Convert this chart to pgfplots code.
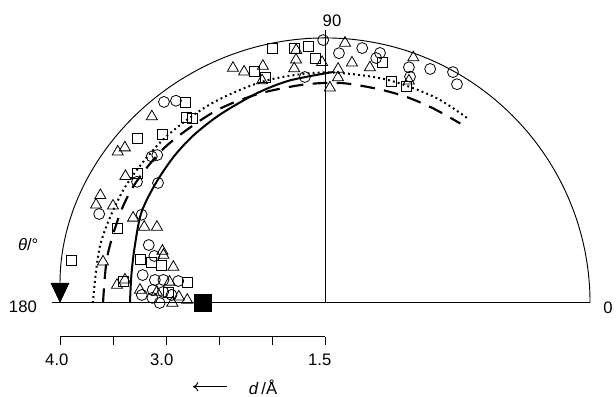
\documentclass[border=0pt]{standalone}
\usepackage{pgfplots}
\pgfplotsset{compat=1.18}
\usepackage{pgfplotstable}
\usepackage{fontspec}
\setmainfont{Liberation Sans}
\usetikzlibrary{arrows.meta}
\newcommand{\Ang}{\symbol{"00C5}}
\newcommand{\Deg}{\symbol{"00B0}}
\newcommand{\Th}{\symbol{"03B8}}

\pgfplotstableread{
theta d
90.4 3.98
86.8 3.86
81.7 3.93
77.6 3.915
78.2 3.86
95.1 3.64
70.4 3.86
69.4 3.78
65.8 3.92
61.0 3.99
58.9 3.91
128.7 3.93
126.4 3.87
139.8 3.64
138.6 3.61
147.2 3.61
144.3 3.44
158.5 3.79
154.3 3.42
161.8 3.25
164.6 3.17
171.3 3.24
172.3 3.12
171.9 3.04
171.5 2.90
177.5 3.23
175.7 3.13
176.1 3.03
177.0 2.95
178.3 3.13
180.0 3.06
}\circdata

\pgfplotstableread{
theta d
101.6 3.95
96.9 3.92
93.8 3.93
92.3 3.81
106.9 3.78
104.9 3.70
76.6 3.83
73.4 3.68
69.4 3.68
124.8 3.80
126.8 3.69
125.7 3.64
138.8 3.85
134.1 3.71
145.5 3.65
160.1 3.58
170.4 3.93
166.6 3.29
167.0 3.18
166.9 3.08
171.3 2.81
173.8 3.41
176.0 2.98
}\sqdata

\pgfplotstableread{
theta d
85.6 3.96
83.6 3.78
79.2 3.76
90.7 3.77
86.8 3.71
86.7 3.63
88.7 3.53
70.2 3.96
69.3 3.74
96.5 3.90
96.8 3.81
97.5 3.73
111.4 3.88
109.3 3.81
104.7 3.81
105.8 3.68
132.9 3.90
142.2 3.89
143.9 3.92
147.6 3.73
154.4 3.85
156.8 3.85
155.4 3.70
156.1 3.48
157.2 3.35
155.7 3.24
169.5 3.63
162.3 3.11
163.5 3.09
166.7 2.97
173.4 3.40
175.1 3.47
172.3 2.98
176.0 3.25
177.6 2.88
178.8 2.80
180.0 2.94
176.3 3.09
}\tridata

\pgfplotstableread{
theta d
180 3.34
172 3.345
164 3.37
154 3.43
145 3.455
136 3.485
128 3.51
119 3.535
108 3.58
99 3.625
88 3.68
}\soliddata

\pgfplotstableread{
theta d
180 3.594
168 3.60
156 3.61
147 3.615
135 3.605
120 3.585
108 3.57
97 3.568
90 3.575
84 3.58
75.5 3.58
68.3 3.59
61 3.60
53 3.62
}\dashdata

\pgfplotstableread{
theta d
180 3.69
165 3.69
150 3.68
135 3.67
120 3.665
105 3.67
90 3.675
75 3.685
62 3.70
52.5 3.70
}\dotdata

\begin{document}
\begin{tikzpicture}
\begin{axis}[
  x=79.5pt, y=79.5pt,
  xmin=-3.066, xmax=2.745, ymin=-0.887, ymax=2.858,
  hide axis, ticks=none, clip=false, scale only axis,
  every axis plot/.append style={data cs=polar},
]
\coordinate (BL) at (rel axis cs:0,0);
\coordinate (TR) at (rel axis cs:1,1);
% frame
\draw[line width=0.7pt] (axis cs:-2.58,0) -- (axis cs:2.5,0);
\draw[line width=0.7pt] (axis cs:0,0) -- (axis cs:0,2.575);
\draw[line width=0.7pt, -{Triangle[length=15pt,width=14pt]}] (axis cs:2.5,0) arc[start angle=0,end angle=180,radius=198.75pt];

% curves
\addplot[smooth, black, line width=1.5pt] table[x=theta, y expr=\thisrow{d}-1.5] {\soliddata};
\addplot[smooth, black, line width=1.6pt, dash pattern=on 11pt off 7pt] table[x=theta, y expr=\thisrow{d}-1.5] {\dashdata};
\addplot[smooth, black, line width=1.5pt, dash pattern=on 1.4pt off 2.4pt] table[x=theta, y expr=\thisrow{d}-1.5] {\dotdata};

% markers
\addplot[only marks, mark=o, mark size=4.1pt, mark options={black, line width=0.6pt}] table[x=theta, y expr=\thisrow{d}-1.5] {\circdata};
\addplot[only marks, mark=square, mark size=3.75pt, mark options={black, line width=0.6pt}] table[x=theta, y expr=\thisrow{d}-1.5] {\sqdata};
\addplot[only marks, mark=triangle, mark size=4.8pt, mark options={black, line width=0.6pt}] table[x=theta, y expr=\thisrow{d}-1.5] {\tridata};
\addplot[only marks, mark=square*, mark size=6.4pt, mark options={black}] coordinates {(180,1.15)};

% d scale
\draw[line width=0.7pt] (axis cs:-2.5,-0.32) -- (axis cs:0,-0.32);
\draw[line width=0.7pt] (axis cs:-2.5,-0.32) -- (axis cs:-2.5,-0.395);
\draw[line width=0.7pt] (axis cs:-2.0,-0.32) -- (axis cs:-2.0,-0.395);
\draw[line width=0.7pt] (axis cs:-1.5,-0.32) -- (axis cs:-1.5,-0.395);
\draw[line width=0.7pt] (axis cs:-1.0,-0.32) -- (axis cs:-1.0,-0.395);
\draw[line width=0.7pt] (axis cs:-0.5,-0.32) -- (axis cs:-0.5,-0.395);
\draw[line width=0.7pt] (axis cs:0,-0.32) -- (axis cs:0,-0.395);
\node[font=\fontsize{12.5}{14}\selectfont] at (axis cs:-2.53,-0.54) {4.0};
\node[font=\fontsize{12.5}{14}\selectfont] at (axis cs:-1.54,-0.54) {3.0};
\node[font=\fontsize{12.5}{14}\selectfont] at (axis cs:-0.05,-0.54) {1.5};
\draw[line width=0.7pt, -{To[length=4pt,width=7pt]}] (axis cs:-0.925,-0.79) -- (axis cs:-1.245,-0.79);
\node[font=\fontsize{12.5}{14}\selectfont] at (axis cs:-0.585,-0.80) {\textit{d}\,/\Ang};

% angle labels
\node[font=\fontsize{12.5}{14}\selectfont] at (axis cs:-2.85,-0.04) {180};
\node[font=\fontsize{12.5}{14}\selectfont] at (axis cs:2.67,-0.047) {0};
\node[font=\fontsize{12.5}{14}\selectfont] at (axis cs:0.066,2.66) {90};
\node[font=\fontsize{12.5}{14}\selectfont] at (axis cs:-2.80,0.547) {\textit{\Th}/\Deg};
\end{axis}
\pgfresetboundingbox
\path[use as bounding box] (BL) rectangle (TR);
\end{tikzpicture}
\end{document}
